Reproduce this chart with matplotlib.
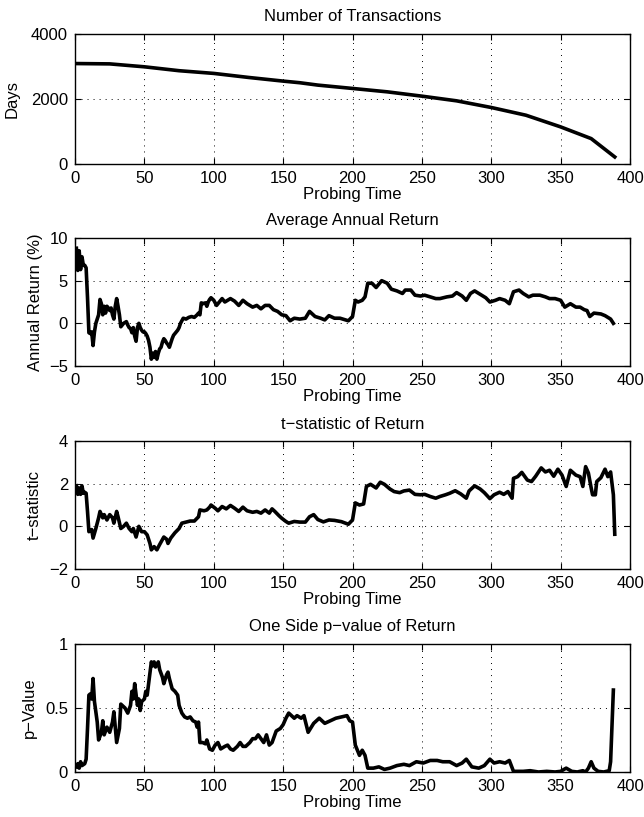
import matplotlib
matplotlib.use("Agg")
import matplotlib.pyplot as plt

plt.rcParams['font.family'] = ['Liberation Sans', 'DejaVu Sans']

# number of transactions (days) vs probing time
days_t = [1, 25, 50, 75, 100, 125, 150, 162, 175, 200, 225, 250, 275, 300, 325, 350, 372, 389]
days = [3090, 3080, 2990, 2870, 2787, 2663, 2550, 2500, 2427, 2324, 2220, 2087, 1943, 1738, 1500, 1141, 781, 216]

# average annual return (%)
ret_t = [1, 2, 3, 4, 5, 6, 7, 8, 9, 10, 11, 12, 13, 14, 15, 16, 17, 18, 19, 20,
         21, 22, 23, 24, 25, 26, 27, 28, 29, 30, 31, 32, 33, 34, 35, 36, 37, 38, 39, 40,
         41, 42, 43, 44, 45, 46, 47, 48, 49, 50, 51, 52, 53, 54, 55, 56, 57, 58, 59, 60,
         61, 62, 63, 64, 65, 66, 67, 68, 69, 70, 71, 72, 73, 74, 75, 76, 77, 78, 80, 82,
         84, 86, 88, 89, 90, 91, 92, 94, 95, 96, 97, 98, 100, 102, 104, 106, 108, 110, 112, 115,
         118, 121, 124, 128, 131, 134, 137, 140, 143, 146, 149, 152, 155, 158, 162, 166, 169, 173, 177, 180,
         183, 187, 191, 197, 200, 202, 204, 207, 209, 211, 214, 217, 221, 225, 228, 232, 236, 238, 242, 245,
         249, 252, 256, 260, 263, 268, 272, 275, 279, 282, 285, 288, 292, 296, 299, 303, 306, 310, 313, 316,
         320, 323, 327, 330, 335, 339, 342, 346, 350, 353, 357, 361, 364, 367, 369, 371, 374, 379, 382, 386, 388]
ret = [8.8, 6.2, 8.5, 6.3, 7.8, 6.8, 6.8, 6.5, 3.0, -1.1, -1.2, -1.0, -2.6, -1.0, 0.0, 0.5, 1.0, 2.8, 2.3, 1.0,
       2.0, 1.2, 2.0, 1.8, 1.5, 1.8, 1.0, 0.5, 2.0, 2.9, 2.0, 1.0, -0.4, -0.2, 0.0, 0.1, 0.2, -0.2, -0.5, -0.6,
       -1.1, -0.5, -1.5, -2.1, -0.5, 0.0, -0.5, -0.8, -1.0, -1.0, -1.2, -1.5, -2.0, -2.8, -4.2, -3.5, -4.0, -3.3, -4.2, -3.5,
       -3.0, -2.8, -2.2, -1.8, -2.0, -2.3, -2.5, -2.8, -2.3, -1.8, -1.4, -1.2, -1.0, -0.8, -0.5, 0.0, 0.3, 0.6, 0.5, 0.7,
       0.8, 0.7, 1.0, 1.2, 1.0, 2.4, 2.3, 2.4, 2.0, 2.5, 2.8, 3.0, 2.7, 2.1, 2.5, 2.9, 2.5, 2.7, 2.9, 2.6,
       2.1, 2.7, 2.3, 1.9, 2.1, 1.7, 2.1, 2.1, 1.6, 1.4, 1.0, 0.9, 0.3, 0.6, 0.5, 0.6, 1.4, 0.8, 0.6, 0.4,
       0.9, 0.6, 0.6, 0.3, 0.8, 2.7, 2.5, 2.7, 3.1, 4.7, 4.7, 4.2, 5.0, 4.7, 4.0, 3.8, 3.5, 3.9, 3.9, 3.3,
       3.2, 3.3, 3.1, 2.9, 2.9, 3.1, 3.2, 3.6, 3.2, 2.7, 3.5, 3.8, 3.4, 3.0, 2.5, 2.7, 2.9, 2.7, 2.3, 3.7,
       3.9, 3.5, 3.1, 3.3, 3.3, 3.1, 2.9, 2.9, 2.7, 1.9, 2.3, 1.9, 1.9, 1.6, 1.5, 0.8, 1.2, 1.1, 0.9, 0.5, 0.0]

# t-statistic of return
tstat_t = [1, 2, 3, 4, 5, 6, 7, 8, 9, 10, 12, 13, 15, 17, 18, 20, 21, 23, 25, 27,
           28, 30, 31, 33, 35, 37, 39, 41, 42, 44, 46, 48, 50, 52, 54, 55, 57, 59, 61, 64,
           66, 67, 69, 72, 75, 77, 80, 83, 86, 89, 90, 93, 95, 97, 98, 101, 103, 106, 109, 112,
           115, 118, 121, 124, 128, 131, 134, 137, 140, 142, 144, 147, 149, 152, 154, 158, 162, 166, 169, 172,
           175, 179, 183, 187, 192, 197, 200, 202, 205, 208, 210, 213, 217, 220, 223, 227, 230, 234, 237, 241,
           245, 249, 252, 256, 260, 263, 267, 270, 274, 278, 282, 284, 288, 292, 295, 299, 302, 306, 309, 312,
           315, 316, 319, 322, 326, 329, 332, 336, 339, 342, 345, 348, 351, 354, 357, 361, 364, 366, 368, 370,
           372, 373, 375, 376, 379, 382, 384, 386, 387, 388, 389]
tstat = [1.9, 1.5, 1.8, 1.5, 1.9, 1.55, 1.6, 1.55, 0.7, -0.25, -0.15, -0.55, -0.1, 0.4, 0.7, 0.4, 0.55, 0.3, 0.55, 0.4,
         0.15, 0.7, 0.45, -0.1, 0.0, 0.15, -0.1, -0.25, -0.1, -0.5, 0.0, -0.25, -0.25, -0.4, -0.8, -1.1, -0.95, -1.1, -0.85, -0.5,
         -0.6, -0.8, -0.55, -0.3, -0.1, 0.15, 0.2, 0.25, 0.25, 0.45, 0.77, 0.73, 0.77, 0.9, 1.0, 0.85, 0.73, 0.93, 0.82, 0.98,
         0.85, 0.7, 0.9, 0.73, 0.66, 0.7, 0.62, 0.77, 0.62, 0.82, 0.7, 0.5, 0.38, 0.23, 0.15, 0.23, 0.2, 0.2, 0.45, 0.55,
         0.32, 0.21, 0.3, 0.28, 0.22, 0.1, 0.3, 1.1, 1.0, 1.05, 1.87, 1.97, 1.8, 2.07, 1.97, 1.75, 1.63, 1.58, 1.66, 1.7,
         1.5, 1.48, 1.5, 1.4, 1.32, 1.4, 1.48, 1.55, 1.67, 1.52, 1.32, 1.66, 1.9, 1.75, 1.58, 1.3, 1.48, 1.6, 1.5, 1.63,
         1.32, 2.25, 2.33, 2.53, 2.17, 2.1, 2.35, 2.74, 2.55, 2.63, 2.35, 2.68, 2.4, 1.87, 2.63, 2.4, 2.33, 1.87, 2.8, 2.5,
         1.8, 1.48, 1.48, 2.1, 2.28, 2.68, 2.33, 2.55, 2.02, 1.48, -0.37]

# one side p-value of return
pval_t = [1, 2, 3, 4, 5, 7, 8, 9, 10, 11, 12, 13, 14, 16, 17, 19, 20, 21, 23, 25,
          27, 28, 30, 32, 33, 36, 38, 40, 41, 42, 43, 45, 46, 47, 48, 50, 51, 52, 54, 55,
          56, 57, 58, 60, 61, 63, 64, 66, 67, 68, 70, 72, 74, 75, 77, 79, 81, 83, 85, 87,
          88, 89, 90, 92, 94, 95, 97, 99, 101, 103, 105, 108, 110, 112, 114, 117, 119, 121, 123, 126,
          128, 130, 132, 134, 136, 138, 140, 142, 145, 148, 150, 152, 154, 156, 158, 160, 163, 165, 168, 172,
          176, 180, 184, 188, 192, 196, 198, 200, 202, 205, 207, 209, 211, 215, 219, 223, 227, 232, 237, 241,
          246, 251, 256, 261, 265, 270, 275, 279, 282, 286, 291, 295, 299, 302, 306, 310, 313, 316, 323, 328,
          334, 340, 346, 350, 354, 358, 362, 366, 368, 370, 372, 374, 377, 381, 385, 386, 388]
pval = [0.04, 0.065, 0.03, 0.08, 0.05, 0.065, 0.1, 0.34, 0.6, 0.61, 0.57, 0.73, 0.55, 0.39, 0.25, 0.31, 0.4, 0.29, 0.35, 0.31,
        0.39, 0.47, 0.23, 0.34, 0.53, 0.5, 0.46, 0.52, 0.63, 0.57, 0.69, 0.52, 0.57, 0.48, 0.55, 0.57, 0.63, 0.6, 0.77, 0.86,
        0.83, 0.86, 0.82, 0.86, 0.8, 0.74, 0.69, 0.76, 0.78, 0.73, 0.65, 0.63, 0.6, 0.52, 0.46, 0.43, 0.42, 0.43, 0.4, 0.39,
        0.35, 0.39, 0.23, 0.23, 0.22, 0.25, 0.18, 0.17, 0.21, 0.23, 0.18, 0.2, 0.21, 0.18, 0.17, 0.2, 0.23, 0.2, 0.2, 0.23,
        0.26, 0.26, 0.29, 0.26, 0.23, 0.29, 0.21, 0.23, 0.32, 0.34, 0.37, 0.42, 0.46, 0.44, 0.42, 0.44, 0.42, 0.44, 0.31, 0.38,
        0.42, 0.38, 0.4, 0.42, 0.43, 0.44, 0.4, 0.39, 0.21, 0.13, 0.17, 0.13, 0.03, 0.03, 0.04, 0.02, 0.03, 0.05, 0.06, 0.05,
        0.08, 0.07, 0.09, 0.09, 0.08, 0.08, 0.05, 0.07, 0.1, 0.04, 0.03, 0.05, 0.1, 0.07, 0.08, 0.07, 0.09, 0.005, 0.005, 0.01,
        0.0, 0.005, 0.0, 0.005, 0.03, 0.005, 0.0, 0.01, 0.0, 0.03, 0.08, 0.03, 0.005, 0.0, 0.01, 0.08, 0.64]

panels = [
    (days_t, days, "Number of Transactions", "Days", (0, 4000), [0, 2000, 4000], ["0", "2000", "4000"]),
    (ret_t, ret, "Average Annual Return", "Annual Return (%)", (-5, 10), [-5, 0, 5, 10], ["\u22125", "0", "5", "10"]),
    (tstat_t, tstat, "t\u2212statistic of Return", "t\u2212statistic", (-2, 4), [-2, 0, 2, 4], ["\u22122", "0", "2", "4"]),
    (pval_t, pval, "One Side p\u2212value of Return", "p\u2212Value", (0, 1), [0, 0.5, 1], ["0", "0.5", "1"]),
]

# axes boxes in figure fraction (left, bottom, width, height)
rects = [
    (0.1165, 0.7993, 0.8618, 0.1591),
    (0.1165, 0.5520, 0.8618, 0.1567),
    (0.1165, 0.3035, 0.8618, 0.1567),
    (0.1165, 0.0551, 0.8618, 0.1567),
]
# x position of the y label (right edge, axes fraction)
ylab_x = [-0.099, -0.058, -0.060, -0.069]

fs = 12
fig = plt.figure(figsize=(6.44, 8.17), dpi=100)
for rect, lx, (t, v, title, ylabel, ylim, yt, ytl) in zip(rects, ylab_x, panels):
    ax = fig.add_axes(rect)
    ax.plot(t, v, color="black", lw=2.6, solid_joinstyle="round")
    ax.set_xlim(0, 400)
    ax.set_ylim(*ylim)
    ax.set_xticks(range(0, 401, 50))
    ax.set_yticks(yt)
    ax.set_yticklabels(ytl)
    ax.grid(True, linestyle=(0, (1, 5.2)), color="black", linewidth=0.7)
    ax.tick_params(direction="in", top=True, right=True, length=4, width=0.8,
                   labelsize=fs, pad=5)
    for sp in ax.spines.values():
        sp.set_linewidth(1.0)
    ax.set_title(title, fontsize=fs, pad=9)
    ax.set_xlabel("Probing Time", fontsize=fs, labelpad=1)
    ax.set_ylabel(ylabel, fontsize=fs)
    ax.yaxis.set_label_coords(lx, 0.5)

fig.savefig("out.png", dpi=100)
